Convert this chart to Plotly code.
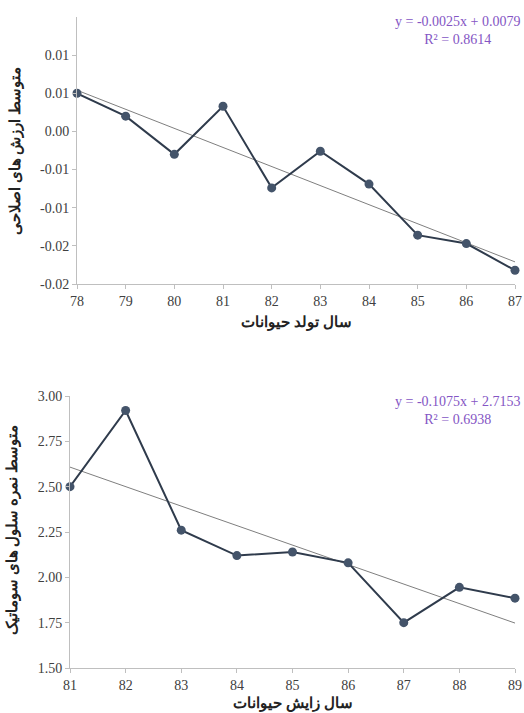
import plotly.graph_objects as go

# ---- data: top chart (breeding values by birth year)
birth_years = [78, 79, 80, 81, 82, 83, 84, 85, 86, 87]
breeding_values = [0.0050, 0.0020, -0.0030, 0.0033, -0.0074, -0.0026, -0.0069, -0.0136, -0.0147, -0.0182]
top_slope, top_intercept, top_r2 = -0.0025, 0.0079, 0.8614
top_yticks = [-0.02, -0.015, -0.01, -0.005, 0.0, 0.005, 0.01]
top_yticklabels = ["-0.02", "-0.02", "-0.01", "-0.01", "0.00", "0.01", "0.01"]

# ---- data: bottom chart (somatic cell score by calving year)
calving_years = [81, 82, 83, 84, 85, 86, 87, 88, 89]
scc_scores = [2.50, 2.92, 2.26, 2.12, 2.14, 2.08, 1.75, 1.945, 1.885]
bot_slope, bot_intercept, bot_r2 = -0.1075, 2.7153, 0.6938
bot_yticks = [1.50, 1.75, 2.00, 2.25, 2.50, 2.75, 3.00]
bot_yticklabels = ["1.50", "1.75", "2.00", "2.25", "2.50", "2.75", "3.00"]

W, H = 524, 713
LINE = "#2F3B4C"
MARK = "#44546A"
TREND = "#7F7F7F"
PURPLE = "#8455C4"
FONT = "Times New Roman, Liberation Serif, serif"
AX = "#BFBFBF"

def px_x(a, b):
    return [a / W, b / W]

def px_y(top, bottom):
    return [1 - bottom / H, 1 - top / H]

fig = go.Figure()

# trend lines from displayed equations (x index 1..n)
top_trend = [top_slope * (i + 1) + top_intercept for i in range(len(birth_years))]
bot_trend = [bot_slope * (i + 1) + bot_intercept for i in range(len(calving_years))]

fig.add_trace(go.Scatter(x=birth_years, y=top_trend, mode="lines",
                         line=dict(color=TREND, width=1), xaxis="x", yaxis="y",
                         showlegend=False, hoverinfo="skip", cliponaxis=False))
fig.add_trace(go.Scatter(x=birth_years, y=breeding_values, mode="lines+markers",
                         line=dict(color=LINE, width=2),
                         marker=dict(color=MARK, size=9),
                         xaxis="x", yaxis="y", showlegend=False, cliponaxis=False))
fig.add_trace(go.Scatter(x=calving_years, y=bot_trend, mode="lines",
                         line=dict(color=TREND, width=1), xaxis="x2", yaxis="y2",
                         showlegend=False, hoverinfo="skip", cliponaxis=False))
fig.add_trace(go.Scatter(x=calving_years, y=scc_scores, mode="lines+markers",
                         line=dict(color=LINE, width=2),
                         marker=dict(color=MARK, size=9),
                         xaxis="x2", yaxis="y2", showlegend=False, cliponaxis=False))

axis_common = dict(showgrid=False, zeroline=False, showline=True, linecolor=AX,
                   linewidth=1, ticks="outside", ticklen=4, tickcolor=AX,
                   tickfont=dict(family=FONT, size=14, color="#404040"),
                   automargin=False, fixedrange=True)

fig.update_layout(
    width=W, height=H,
    margin=dict(l=0, r=0, t=0, b=0),
    paper_bgcolor="white", plot_bgcolor="white",
    font=dict(family=FONT),
    xaxis=dict(domain=px_x(77, 515), range=[78, 87], tickvals=birth_years,
               anchor="y", **axis_common),
    yaxis=dict(domain=px_y(17, 284), range=[-0.02, 0.015], tickvals=top_yticks,
               ticktext=top_yticklabels, anchor="x", **axis_common),
    xaxis2=dict(domain=px_x(70, 515), range=[81, 89], tickvals=calving_years,
                anchor="y2", **axis_common),
    yaxis2=dict(domain=px_y(396, 668), range=[1.5, 3.0], tickvals=bot_yticks,
                ticktext=bot_yticklabels, anchor="x2", **axis_common),
)

title_font = dict(family=FONT, size=15, color="#222222")
annots = [
    dict(text="<b>سال تولد حیوانات</b>", x=296 / W, y=1 - 322 / H),
    dict(text="<b>متوسط ارزش های اصلاحی</b>", x=16 / W, y=1 - 151 / H, textangle=-90),
    dict(text="<b>سال زایش حیوانات</b>", x=293 / W, y=1 - 703 / H),
    dict(text="<b>متوسط نمره سلول های سوماتیک</b>", x=12 / W, y=1 - 530 / H, textangle=-90),
]
for a in annots:
    fig.add_annotation(xref="paper", yref="paper", showarrow=False,
                       xanchor="center", yanchor="middle", font=title_font, **a)

eq_font = dict(family=FONT, size=14, color=PURPLE)
fig.add_annotation(xref="paper", yref="paper", showarrow=False, x=457 / W, y=1 - 31 / H,
                   xanchor="center", yanchor="middle", align="center", font=eq_font,
                   text=f"y = {top_slope:.4f}x + {top_intercept:.4f}<br>R² = {top_r2:.4f}")
fig.add_annotation(xref="paper", yref="paper", showarrow=False, x=457 / W, y=1 - 410 / H,
                   xanchor="center", yanchor="middle", align="center", font=eq_font,
                   text=f"y = {bot_slope:.4f}x + {bot_intercept:.4f}<br>R² = {bot_r2:.4f}")

fig.write_html("out.html", config={"displayModeBar": False})

# remove default page margin so the 524x713 figure fills the window exactly
with open("out.html", encoding="utf-8") as f:
    html = f.read()
html = html.replace("<head>", "<head><style>html,body{margin:0;padding:0;overflow:hidden;}</style>", 1)
with open("out.html", "w", encoding="utf-8") as f:
    f.write(html)
